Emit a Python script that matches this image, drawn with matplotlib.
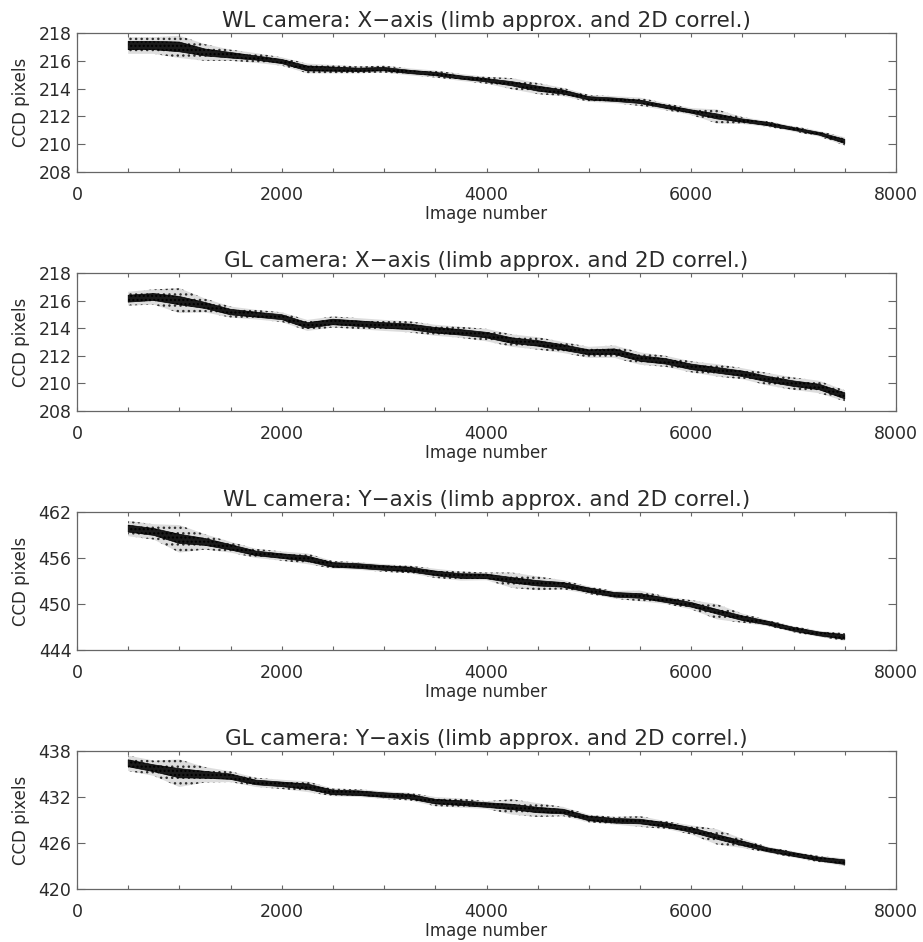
import matplotlib
matplotlib.use("Agg")
import matplotlib.pyplot as plt
import numpy as np

image_number = [500, 750, 1000, 1250, 1500, 1750, 2000, 2250, 2500, 2750, 3000,
                3250, 3500, 3750, 4000, 4250, 4500, 4750, 5000, 5250, 5500,
                5750, 6000, 6250, 6500, 6750, 7000, 7250, 7500]

# Panel 1: WL camera X-axis (centre of band, core half-width, outer scatter half-width)
wl_x_centre = [217.1, 217.1, 217.0, 216.6, 216.4, 216.2, 215.95, 215.45, 215.4, 215.35, 215.4,
               215.2, 215.05, 214.8, 214.6, 214.35, 214.0, 213.75, 213.3, 213.2, 213.05,
               212.7, 212.35, 212.0, 211.7, 211.45, 211.1, 210.75, 210.2]
wl_x_core = [0.3, 0.3, 0.35, 0.25, 0.2, 0.15, 0.15, 0.18, 0.15, 0.12, 0.12,
             0.12, 0.12, 0.12, 0.12, 0.15, 0.18, 0.15, 0.12, 0.12, 0.12,
             0.12, 0.12, 0.18, 0.12, 0.12, 0.1, 0.1, 0.15]
wl_x_outer = [0.6, 0.6, 0.8, 0.6, 0.4, 0.35, 0.3, 0.35, 0.3, 0.25, 0.25,
              0.25, 0.25, 0.25, 0.25, 0.4, 0.4, 0.3, 0.25, 0.25, 0.3,
              0.25, 0.25, 0.5, 0.25, 0.2, 0.2, 0.2, 0.3]

# Panel 2: GL camera X-axis
gl_x_centre = [216.14, 216.26, 216.0, 215.65, 215.17, 214.98, 214.8, 214.2, 214.45, 214.33, 214.2,
               214.1, 213.85, 213.7, 213.5, 213.1, 212.9, 212.6, 212.25, 212.3, 211.8,
               211.6, 211.2, 210.95, 210.7, 210.3, 209.98, 209.74, 209.1]
gl_x_core = [0.25, 0.25, 0.3, 0.22, 0.2, 0.18, 0.18, 0.2, 0.2, 0.2, 0.2,
             0.2, 0.2, 0.2, 0.2, 0.2, 0.2, 0.2, 0.18, 0.2, 0.2,
             0.2, 0.2, 0.2, 0.2, 0.2, 0.2, 0.2, 0.22]
gl_x_outer = [0.5, 0.55, 0.9, 0.5, 0.4, 0.35, 0.35, 0.4, 0.4, 0.4, 0.4,
              0.4, 0.4, 0.4, 0.45, 0.45, 0.45, 0.4, 0.4, 0.45, 0.45,
              0.4, 0.4, 0.45, 0.4, 0.45, 0.45, 0.45, 0.4]

# Panel 3: WL camera Y-axis
wl_y_centre = [459.84, 459.4, 458.5, 458.1, 457.4, 456.6, 456.25, 455.9, 455.1, 454.95, 454.7,
               454.5, 454.0, 453.65, 453.6, 453.1, 452.7, 452.5, 451.8, 451.2, 451.05,
               450.5, 449.9, 449.0, 448.15, 447.5, 446.7, 446.1, 445.7]
wl_y_core = [0.45, 0.45, 0.6, 0.45, 0.35, 0.3, 0.3, 0.35, 0.3, 0.3, 0.3,
             0.3, 0.3, 0.3, 0.3, 0.35, 0.35, 0.3, 0.3, 0.3, 0.3,
             0.3, 0.3, 0.3, 0.3, 0.25, 0.25, 0.25, 0.3]
wl_y_outer = [1.0, 1.0, 1.8, 1.0, 0.7, 0.6, 0.6, 0.7, 0.5, 0.5, 0.5,
              0.5, 0.6, 0.6, 0.5, 1.0, 0.9, 0.6, 0.5, 0.5, 0.7,
              0.5, 0.6, 1.0, 0.6, 0.4, 0.4, 0.4, 0.5]

# Panel 4: GL camera Y-axis
gl_y_centre = [436.4, 435.75, 435.1, 434.9, 434.65, 433.9, 433.65, 433.35, 432.6, 432.5, 432.25,
               432.05, 431.4, 431.2, 430.95, 430.7, 430.3, 430.1, 429.2, 428.9, 428.8,
               428.35, 427.7, 426.8, 425.95, 425.1, 424.5, 423.9, 423.5]
gl_y_core = [0.45, 0.45, 0.6, 0.45, 0.35, 0.3, 0.3, 0.35, 0.3, 0.3, 0.3,
             0.3, 0.3, 0.3, 0.3, 0.35, 0.35, 0.3, 0.3, 0.3, 0.3,
             0.3, 0.3, 0.3, 0.3, 0.25, 0.25, 0.25, 0.3]
gl_y_outer = [1.0, 1.0, 1.8, 1.0, 0.7, 0.6, 0.6, 0.7, 0.5, 0.5, 0.5,
              0.5, 0.6, 0.6, 0.5, 1.0, 0.9, 0.6, 0.5, 0.5, 0.7,
              0.5, 0.6, 1.0, 0.6, 0.4, 0.4, 0.4, 0.5]

titles = ["WL camera: X\u2212axis (limb approx. and 2D correl.)",
          "GL camera: X\u2212axis (limb approx. and 2D correl.)",
          "WL camera: Y\u2212axis (limb approx. and 2D correl.)",
          "GL camera: Y\u2212axis (limb approx. and 2D correl.)"]
y_limits = [(208, 218), (208, 218), (444, 462), (420, 438)]
y_ticks = [[208, 210, 212, 214, 216, 218], [208, 210, 212, 214, 216, 218],
           [444, 450, 456, 462], [420, 426, 432, 438]]
x_ticks = [0, 2000, 4000, 6000, 8000]
x_label = "Image number"
y_label = "CCD pixels"

series = [(wl_x_centre, wl_x_core, wl_x_outer),
          (gl_x_centre, gl_x_core, gl_x_outer),
          (wl_y_centre, wl_y_core, wl_y_outer),
          (gl_y_centre, gl_y_core, gl_y_outer)]

W, H = 923, 942
fig = plt.figure(figsize=(W / 100, H / 100), dpi=100)
plt.rcParams['font.family'] = ['DejaVu Sans']
plt.rcParams['hatch.linewidth'] = 1.0
text_col = '#2a2a2a'
axis_col = '#666666'

# (top, bottom) pixel rows of each panel
rows = [(33, 172), (273, 411), (512, 650), (751, 889)]
left_px, right_px = 77, 896

x = np.array(image_number, dtype=float)
for i, (top, bot) in enumerate(rows):
    ax = fig.add_axes([left_px / W, 1 - bot / H, (right_px - left_px) / W, (bot - top) / H])
    c, core, outer = (np.array(a, dtype=float) for a in series[i])
    ax.fill_between(x, c - outer, c + outer, facecolor='#dddddd', hatch='...',
                    edgecolor='#333333', linewidth=0)
    ax.fill_between(x, c - core, c + core, facecolor='#1a1a1a', hatch='....',
                    edgecolor='#000000', linewidth=0.5)
    ax.set_xlim(0, 8000)
    ax.set_ylim(*y_limits[i])
    ax.set_xticks(x_ticks)
    ax.set_xticks(np.arange(0, 8001, 500), minor=True)
    ax.set_yticks(y_ticks[i])
    ax.tick_params(axis='x', which='both', direction='in', top=True, bottom=True,
                   length=3, width=0.8, color=axis_col, labelsize=12.5,
                   labelcolor=text_col, pad=10)
    ax.tick_params(axis='y', which='major', direction='in', left=True, right=True,
                   length=6, width=0.8, color=axis_col, labelsize=12.5,
                   labelcolor=text_col, pad=4)
    for s in ax.spines.values():
        s.set_color(axis_col)
        s.set_linewidth(0.9)
    ax.set_title(titles[i], fontsize=15.5, color=text_col, pad=4)
    ax.set_xlabel(x_label, fontsize=12, color=text_col, labelpad=1)
    ax.set_ylabel(y_label, fontsize=12, color=text_col, labelpad=6)

fig.savefig("out.png", dpi=100)
